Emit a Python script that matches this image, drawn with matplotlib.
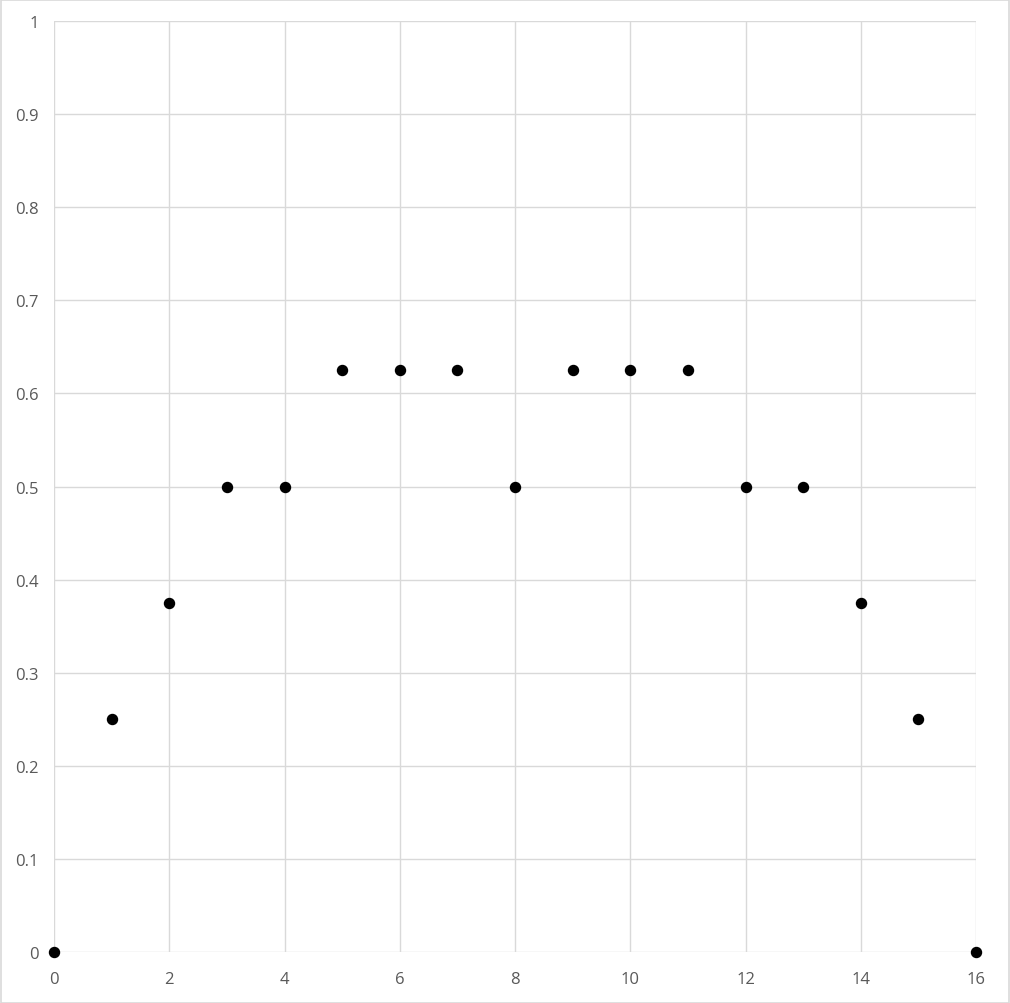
import matplotlib
matplotlib.use("Agg")
import matplotlib.pyplot as plt
from matplotlib.patches import Rectangle

x_vals = [0, 1, 2, 3, 4, 5, 6, 7, 8, 9, 10, 11, 12, 13, 14, 15, 16]
y_vals = [0, 0.25, 0.375, 0.5, 0.5, 0.625, 0.625, 0.625, 0.5, 0.625, 0.625, 0.625, 0.5, 0.5, 0.375, 0.25, 0]
x_ticks = [0, 2, 4, 6, 8, 10, 12, 14, 16]
y_ticks = [0, 0.1, 0.2, 0.3, 0.4, 0.5, 0.6, 0.7, 0.8, 0.9, 1]
y_tick_labels = ["0", "0.1", "0.2", "0.3", "0.4", "0.5", "0.6", "0.7", "0.8", "0.9", "1"]

W, H = 1010, 1004
fig = plt.figure(figsize=(W / 100, H / 100), dpi=100)
fig.patches.append(Rectangle((0.5 / W, 0.5 / H), 1 - 1.5 / W, 1 - 1.5 / H, transform=fig.transFigure,
                             fill=False, edgecolor="#d9d9d9", linewidth=1.2))
ax = fig.add_axes([54 / W, 1 - 953 / H, (976 - 54) / W, (953 - 22) / H])
ax.set_xlim(0, 16)
ax.set_ylim(0, 1)
ax.set_xticks(x_ticks)
ax.set_yticks(y_ticks)
ax.set_yticklabels(y_tick_labels)
ax.grid(True, color="#d9d9d9", linewidth=1.0)
ax.set_axisbelow(True)
for s in ax.spines.values():
    s.set_visible(False)
ax.tick_params(length=0, colors="#595959", labelsize=12)
ax.tick_params(axis="x", pad=14)
ax.tick_params(axis="y", pad=11)
for lab in ax.get_xticklabels() + ax.get_yticklabels():
    lab.set_family("Open Sans")
ax.scatter(x_vals, y_vals, s=52, color="black", zorder=3, clip_on=False)
fig.savefig("out.png", dpi=100)
